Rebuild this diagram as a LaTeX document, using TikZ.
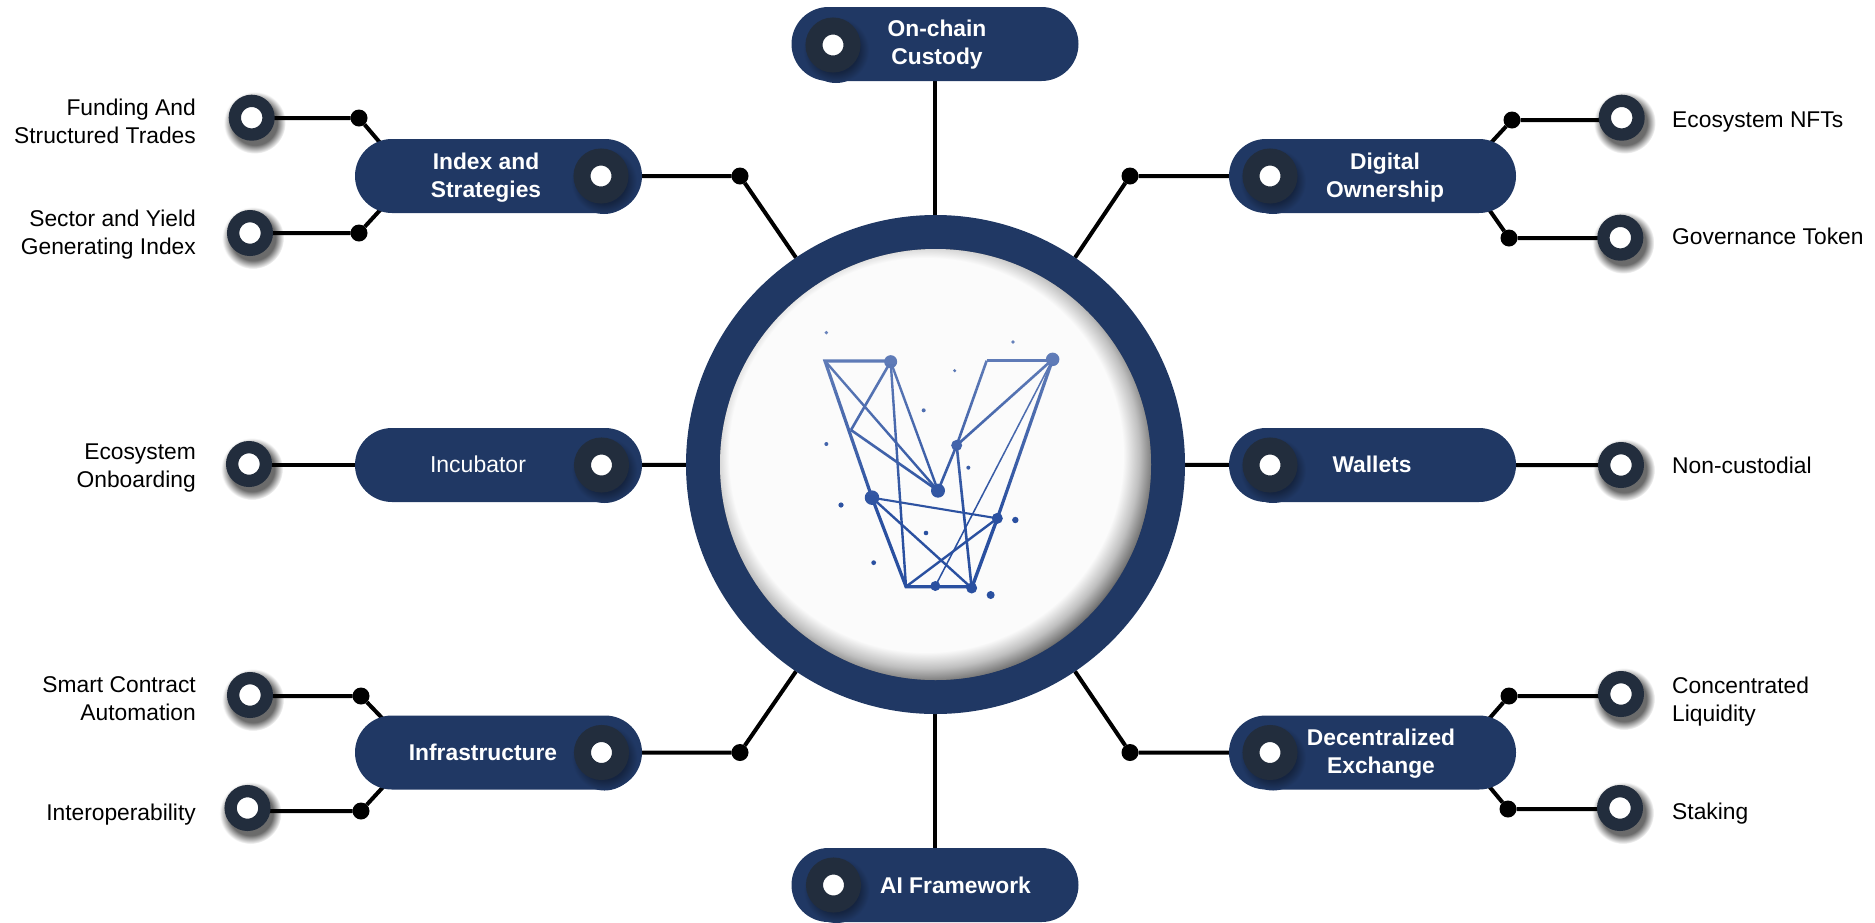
\documentclass[tikz,border=0pt]{standalone}
\usepackage{fontspec}
\setmainfont{Liberation Sans}
\usetikzlibrary{shapes.misc,backgrounds}
\definecolor{navy}{HTML}{203864}
\definecolor{knobc}{HTML}{222D3D}
\definecolor{logoblue}{HTML}{2A50A0}
\definecolor{discbg}{HTML}{FBFBFB}
\pgfdeclareradialshading{softshadow}{\pgfpoint{0bp}{0bp}}{color(0bp)=(black!58); color(18bp)=(black!58); color(25bp)=(white); color(50bp)=(white)}
\pgfdeclareradialshading{pillshadow}{\pgfpoint{0bp}{0bp}}{color(0bp)=(navy!65!black); color(17bp)=(navy!65!black); color(25bp)=(navy); color(50bp)=(navy)}
\pgfdeclareradialshading{innerglow}{\pgfpoint{0bp}{0bp}}{color(0bp)=(discbg); color(21.6bp)=(discbg); color(23.4bp)=(white!75!black); color(25bp)=(white!44!black); color(50bp)=(white!44!black)}
\tikzset{
  pill/.style={rounded rectangle,rounded rectangle arc length=180,fill=navy,minimum width=287pt,minimum height=74pt,inner sep=0pt,outer sep=0pt},
  ringnode/.style={circle,draw=knobc,fill=white,line width=12.3pt,minimum size=33.7pt,inner sep=0pt,outer sep=6.15pt},
  knobnode/.style={circle,draw=knobc,fill=white,line width=17pt,minimum size=38pt,inner sep=0pt,outer sep=8.5pt},
  dotnode/.style={circle,fill=black,minimum size=17pt,inner sep=0pt,outer sep=0pt},
  conn/.style={line width=4pt,black},
  pilltext/.style={white,font=\fontsize{22.8}{28}\selectfont\bfseries,align=center,inner sep=0pt},
  pilllight/.style={white,font=\fontsize{23}{28}\selectfont,align=center,inner sep=0pt},
  labelL/.style={black,font=\fontsize{22.8}{28}\selectfont,align=right,anchor=east,inner sep=0pt},
  labelR/.style={black,font=\fontsize{22.8}{28}\selectfont,align=left,anchor=west,inner sep=0pt},
  logoline/.style={logoblue,line width=#1},
  logonode/.style={circle,fill=logoblue,inner sep=0pt,outer sep=0pt,minimum size=#1},
}
\newcommand{\softshadow}[3]{\shade[shading=softshadow] (#1+3,#2+5) circle (#3);}
\newcommand{\pillshadow}[3]{\shade[shading=pillshadow] (#1+3,#2+5) circle (#3);}
\begin{document}
\begin{tikzpicture}[x=1pt,y=-1pt]
\useasboundingbox (0,0) rectangle (1875,922);

% hub
\node[circle,fill=navy,minimum size=499pt,inner sep=0pt,outer sep=0pt] (hub) at (935.5,464.5) {};
\begin{scope}
  \clip (935.5,464.5) circle (215.5);
  \fill[white!44!black] (935.5,464.5) circle (217);
  \shade[shading=innerglow] (926,455) circle (228);
\end{scope}

% pills
\node[pill] (index) at (498.5,176) {};
\node[pill] (incub) at (498.5,465) {};
\node[pill] (infra) at (498.5,752.5) {};
\node[pill] (digital) at (1372.5,176) {};
\node[pill] (wallets) at (1372.5,465) {};
\node[pill] (dex) at (1372.5,752.5) {};
\node[pill] (custody) at (935,44) {};
\node[pill] (aifw) at (935,885) {};

% pill knobs
\pillshadow{601}{176}{33}
\pillshadow{601.5}{465}{33}
\pillshadow{601.5}{752.5}{33}
\pillshadow{1270}{176}{33}
\pillshadow{1270}{465}{33}
\pillshadow{1270}{752.5}{33}
\pillshadow{833}{45}{33}
\pillshadow{833.5}{885}{33}
\node[knobnode] (kindex) at (601,176) {};
\node[knobnode] (kincub) at (601.5,465) {};
\node[knobnode] (kinfra) at (601.5,752.5) {};
\node[knobnode] (kdigital) at (1270,176) {};
\node[knobnode] (kwallets) at (1270,465) {};
\node[knobnode] (kdex) at (1270,752.5) {};
\node[knobnode] (kcustody) at (833,45) {};
\node[knobnode] (kaifw) at (833.5,885) {};

% pill texts
\node[pilltext] (tindex) at (486,178) {Index and\\Strategies};
\node[pilllight] (tincub) at (478,464) {Incubator};
\node[pilltext] (tinfra) at (483,752) {Infrastructure};
\node[pilltext] (tdigital) at (1385,178) {Digital\\Ownership};
\node[pilltext] (twallets) at (1372,464) {Wallets};
\node[pilltext] (tdex) at (1381,754) {Decentralized\\Exchange};
\node[pilltext] (tcustody) at (937,45) {On-chain\\Custody};
\node[pilltext] (taifw) at (955.5,885) {AI Framework};

% outer junction dots
\node[dotnode] (d1) at (740,176) {};
\node[dotnode] (d2) at (1130,176) {};
\node[dotnode] (d3) at (740,752.5) {};
\node[dotnode] (d4) at (1130,752.5) {};
\node[dotnode] (l1) at (359,118) {};
\node[dotnode] (l2) at (359,233) {};
\node[dotnode] (l3) at (361,696) {};
\node[dotnode] (l4) at (361,811) {};
\node[dotnode] (r1) at (1512,120) {};
\node[dotnode] (r2) at (1509,238) {};
\node[dotnode] (r3) at (1509,696) {};
\node[dotnode] (r4) at (1508,809) {};

% leaf rings
\node[ringnode] (c1) at (251.7,117.7) {};
\node[ringnode] (c2) at (250,233) {};
\node[ringnode] (c3) at (249,464) {};
\node[ringnode] (c4) at (250,695) {};
\node[ringnode] (c5) at (247.5,808) {};
\node[ringnode] (c6) at (1621.7,117.7) {};
\node[ringnode] (c7) at (1620.3,237.7) {};
\node[ringnode] (c8) at (1621,465) {};
\node[ringnode] (c9) at (1621,694) {};
\node[ringnode] (c10) at (1620,808) {};

% leaf labels
\node[labelL] (t1) at (196,121) {Funding And\\Structured Trades};
\node[labelL] (t2) at (196,235) {Sector and Yield\\Generating Index};
\node[labelL] (t3) at (196,468.5) {Ecosystem\\Onboarding};
\node[labelL] (t4) at (196,699) {Smart Contract\\Automation};
\node[labelL] (t5) at (196,815) {Interoperability};
\node[labelR] (t6) at (1672,122) {Ecosystem NFTs};
\node[labelR] (t7) at (1672,236.5) {Governance Token};
\node[labelR] (t8) at (1672,465) {Non-custodial};
\node[labelR] (t9) at (1672,702) {Concentrated\\Liquidity};
\node[labelR] (t10) at (1672,814) {Staking};

% free ends hidden under the pills
\coordinate (e1) at (382,145);
\coordinate (e2) at (382,208);
\coordinate (e3) at (384,720);
\coordinate (e4) at (384,786);
\coordinate (e5) at (1488,146);
\coordinate (e6) at (1488,208);
\coordinate (e7) at (1488,720);
\coordinate (e8) at (1488,785);

\begin{pgfonlayer}{background}
\softshadow{251.7}{117.7}{31}
\softshadow{250}{233}{31}
\softshadow{249}{464}{31}
\softshadow{250}{695}{31}
\softshadow{247.5}{808}{31}
\softshadow{1621.7}{117.7}{31}
\softshadow{1620.3}{237.7}{31}
\softshadow{1621}{465}{31}
\softshadow{1621}{694}{31}
\softshadow{1620}{808}{31}
\draw[conn] (custody) -- (custody|-hub.north);
\draw[conn] (aifw) -- (aifw|-hub.south);
\draw[conn] (incub) -- (hub);
\draw[conn] (wallets) -- (hub);
\draw[conn] (index) -- (d1) -- (hub.124);
\draw[conn] (digital) -- (d2) -- (hub.56);
\draw[conn] (infra) -- (d3) -- (hub.236);
\draw[conn] (dex) -- (d4) -- (hub.304);
\draw[conn] (c1.center|-l1) -- (l1) -- (e1);
\draw[conn] (c2.center|-l2) -- (l2) -- (e2);
\draw[conn] (c3.center|-incub) -- (incub);
\draw[conn] (c4.center|-l3) -- (l3) -- (e3);
\draw[conn] (c5.center|-l4) -- (l4) -- (e4);
\draw[conn] (c6.center|-r1) -- (r1) -- (e5);
\draw[conn] (c7.center|-r2) -- (r2) -- (e6);
\draw[conn] (c8.center) -- (wallets);
\draw[conn] (c9.center|-r3) -- (r3) -- (e7);
\draw[conn] (c10.center|-r4) -- (r4) -- (e8);
\end{pgfonlayer}

% logo
\begin{scope}[shift={(780,320)},x=0.33333pt,y=-0.33333pt]
\coordinate (A) at (135,123);
\coordinate (F) at (620,122);
\coordinate (J) at (378,800);
\coordinate (C) at (213,330);
\node[logonode=13pt] (B) at (332,125) {};
\node[logonode=14pt] (D) at (474,512) {};
\node[logonode=11pt] (E) at (530,376) {};
\node[logonode=13.5pt] (G) at (818,118) {};
\node[logonode=14.5pt] (H) at (276,533) {};
\node[logonode=11pt] (I) at (652,595) {};
\node[logonode=10pt] (K) at (466,798) {};
\node[logonode=11pt] (L) at (575,804) {};
\draw[logoline=3.2pt,line join=miter] (B.center|-A) -- (A) -- (H.center) -- (J) -- (L.center|-J);
\draw[logoline=3pt] (F) -- (G.center|-F);
\draw[logoline=2.6pt] (F) -- (E.center);
\draw[logoline=2.4pt] (A) -- (D.center);
\draw[logoline=2.6pt] (B.center) -- (C);
\draw[logoline=2.6pt] (C) -- (D.center);
\draw[logoline=2.4pt] (B.center) -- (D.center);
\draw[logoline=2.4pt] (B.center) -- (J);
\draw[logoline=2.6pt] (E.center) -- (G.center);
\draw[logoline=2.6pt] (E.center) -- (D.center);
\draw[logoline=2.6pt] (E.center) -- (L.center);
\draw[logoline=3.2pt] (G.center) -- (I.center);
\draw[logoline=3.4pt] (I.center) -- (L.center);
\draw[logoline=1.5pt] (G.center) -- (K.center);
\draw[logoline=2.1pt] (H.center) -- (I.center);
\draw[logoline=2.4pt] (H.center) -- (L.center);
\draw[logoline=2.4pt] (I.center) -- (J);
\foreach \px/\py/\ps in {139/38/3.8,699/66/3.8,524/152/3.4,431/271/4,139/372/4,565/443/4,183/555/5.2,706/600/6.4,438/639/4.6,281/728/4.8,632/825/8}
  \fill[logoblue] (\px,\py) circle (\ps pt/2);
% the logo pales towards the top
\foreach \bandi in {0,...,19}
  \fill[discbg,opacity={.30*(1-\bandi/20)}] (100,20+\bandi*28) rectangle (860,48+\bandi*28);
\end{scope}
\end{tikzpicture}
\end{document}
